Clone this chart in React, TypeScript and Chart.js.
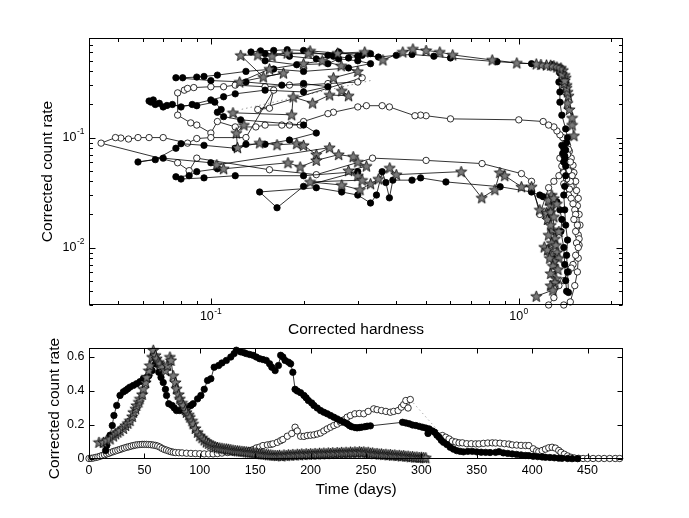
import React, { useEffect, useRef } from 'react';
import { Chart, registerables } from 'chart.js';

Chart.register(...registerables);

const FONT = '"Liberation Sans", Arial, Helvetica, sans-serif';

// ---------- Top panel: hardness-intensity diagram [hardness, rate] ----------
const hidStars: [number, number][] = [
  [1.51, 0.104], [1.49, 0.13], [1.49, 0.151], [1.46, 0.18], [1.44, 0.206], [1.45, 0.24], [1.44, 0.26],
  [1.43, 0.3], [1.43, 0.283], [1.4, 0.31], [1.42, 0.35], [1.41, 0.37], [1.39, 0.41], [1.37, 0.43],
  [1.41, 0.33], [1.38, 0.38], [1.36, 0.42], [1.33, 0.438], [1.30, 0.45], [1.27, 0.455], [1.23, 0.457],
  [1.18, 0.462], [1.14, 0.467], [0.985, 0.477], [0.82, 0.508], [0.61, 0.565], [0.554, 0.6], [0.5, 0.62],
  [0.453, 0.64], [0.42, 0.6], [0.362, 0.508], [0.316, 0.6], [0.258, 0.587], [0.21, 0.614], [0.207, 0.587],
  [0.177, 0.587], [0.158, 0.55], [0.142, 0.565], [0.125, 0.56], [0.148, 0.356], [0.172, 0.386],
  [0.124, 0.32], [0.155, 0.42], [0.2, 0.47], [0.23, 0.5], [0.265, 0.45], [0.3, 0.4], [0.25, 0.35],
  [0.266, 0.266], [0.28, 0.24], [0.243, 0.244], [0.214, 0.206], [0.185, 0.234], [0.183, 0.161],
  [0.118, 0.168], [0.128, 0.13], [0.121, 0.11], [0.122, 0.081], [0.144, 0.0895], [0.164, 0.086],
  [0.19, 0.088], [0.2, 0.085], [0.22, 0.07], [0.243, 0.081], [0.1045, 0.0565], [0.11, 0.052],
  [0.178, 0.059], [0.195, 0.054], [0.22, 0.062], [0.26, 0.07], [0.29, 0.067], [0.3, 0.06], [0.32, 0.055],
  [0.28, 0.05], [0.3, 0.045], [0.31, 0.041], [0.21, 0.0395], [0.266, 0.037], [0.305, 0.0335],
  [0.33, 0.038], [0.35, 0.042], [0.381, 0.053], [0.4, 0.046], [0.65, 0.049], [0.758, 0.0283],
  [0.836, 0.0335], [0.868, 0.048], [0.9, 0.045], [1.02, 0.0357], [1.1, 0.0357], [1.17, 0.022],
  [1.23, 0.0207], [1.27, 0.024], [1.28, 0.03], [1.25, 0.027], [1.3, 0.028], [1.33, 0.025], [1.27, 0.021],
  [1.24, 0.018], [1.3, 0.019], [1.29, 0.0145], [1.35, 0.014], [1.31, 0.012], [1.27, 0.016],
  [1.25, 0.013], [1.28, 0.011], [1.21, 0.0101], [1.24, 0.0095], [1.32, 0.0105], [1.33, 0.009],
  [1.27, 0.0085], [1.35, 0.008], [1.3, 0.0075], [1.26, 0.008], [1.29, 0.0068], [1.34, 0.0063],
  [1.27, 0.0058], [1.32, 0.0052], [1.31, 0.0048], [1.27, 0.0045], [1.29, 0.0041], [1.14, 0.0036],
];

const hidFilled: [number, number][] = [
  [1.45, 0.0039], [1.44, 0.006], [1.43, 0.0085], [1.44, 0.0117], [1.42, 0.016], [1.41, 0.022],
  [1.4, 0.03], [1.41, 0.036], [1.42, 0.045], [1.42, 0.055], [1.41, 0.065], [1.4, 0.06], [1.41, 0.068],
  [1.39, 0.072], [1.4, 0.08], [1.38, 0.085], [1.42, 0.077], [1.43, 0.09],
  [1.44, 0.1], [1.42, 0.12], [1.38, 0.16], [1.36, 0.21], [1.36, 0.26], [1.35, 0.32], [1.36, 0.387],
  [1.33, 0.43], [1.28, 0.46], [1.1, 0.47], [0.85, 0.49], [0.6, 0.53], [0.53, 0.55], [0.45, 0.57],
  [0.4, 0.56], [0.35, 0.54], [0.31, 0.56], [0.28, 0.53], [0.25, 0.55], [0.22, 0.52], [0.18, 0.55],
  [0.15, 0.58], [0.33, 0.58], [0.3, 0.55], [0.26, 0.6], [0.24, 0.56], [0.2, 0.62], [0.177, 0.63],
  [0.16, 0.62], [0.145, 0.615], [0.135, 0.6], [0.15, 0.5], [0.19, 0.46], [0.24, 0.47], [0.26, 0.52],
  [0.3, 0.5], [0.33, 0.47], [0.28, 0.43], [0.2, 0.4], [0.16, 0.42], [0.13, 0.4], [0.105, 0.37],
  [0.095, 0.36], [0.09, 0.355], [0.081, 0.35], [0.077, 0.35], [0.1, 0.33], [0.13, 0.32], [0.17, 0.3],
  [0.2, 0.31], [0.24, 0.29], [0.2, 0.26], [0.15, 0.27], [0.12, 0.25], [0.11, 0.235], [0.1, 0.22],
  [0.087, 0.2], [0.08, 0.19], [0.075, 0.2], [0.07, 0.19], [0.066, 0.2], [0.064, 0.21], [0.063, 0.215],
  [0.065, 0.22], [0.068, 0.205], [0.072, 0.196], [0.09, 0.195], [0.103, 0.21], [0.108, 0.18],
  [0.105, 0.17], [0.11, 0.155], [0.125, 0.145], [0.2, 0.13], [0.22, 0.11], [0.18, 0.095], [0.15, 0.087],
  [0.13, 0.087], [0.12, 0.08], [0.095, 0.085], [0.08, 0.088], [0.077, 0.08], [0.066, 0.063],
  [0.058, 0.06], [0.07, 0.065], [0.1, 0.059], [0.105, 0.052], [0.09, 0.049], [0.085, 0.045],
  [0.077, 0.044], [0.08, 0.042], [0.095, 0.043], [0.12, 0.045], [0.2, 0.045], [0.3, 0.049],
  [0.2, 0.036], [0.164, 0.023], [0.144, 0.032], [0.22, 0.035], [0.266, 0.032], [0.3, 0.03],
  [0.33, 0.0254], [0.345, 0.03], [0.36, 0.049], [0.37, 0.039], [0.38, 0.0283], [0.39, 0.041],
  [0.45, 0.041], [0.48, 0.043], [0.58, 0.0395], [0.87, 0.0357], [1.1, 0.032], [1.17, 0.03],
  [1.2, 0.029], [1.33, 0.026], [1.36, 0.022], [1.38, 0.018], [1.37, 0.014], [1.4, 0.01], [1.41, 0.007],
  [1.42, 0.005], [1.43, 0.004],
];

const hidOpen: [number, number][] = [
  [1.4, 0.003], [1.47, 0.0032], [1.52, 0.0045], [1.55, 0.006], [1.56, 0.008], [1.57, 0.0105],
  [1.56, 0.013], [1.58, 0.016], [1.57, 0.02], [1.55, 0.024], [1.56, 0.028], [1.54, 0.033], [1.53, 0.04],
  [1.51, 0.048], [1.5, 0.056], [1.48, 0.065], [1.46, 0.075], [1.44, 0.085], [1.45, 0.078],
  [1.47, 0.06], [1.49, 0.045], [1.48, 0.036], [1.46, 0.034], [1.47, 0.04], [1.45, 0.05], [1.44, 0.07],
  [1.42, 0.09], [1.39, 0.1], [1.36, 0.106], [1.33, 0.115], [1.3, 0.125], [1.25, 0.13], [1.2, 0.14],
  [1.0, 0.145], [0.6, 0.148], [0.5, 0.158], [0.48, 0.16], [0.46, 0.158], [0.38, 0.19], [0.36, 0.195],
  [0.32, 0.195], [0.3, 0.19], [0.25, 0.17], [0.24, 0.165], [0.2, 0.14], [0.195, 0.13], [0.18, 0.13],
  [0.17, 0.13], [0.15, 0.13], [0.14, 0.125], [0.12, 0.125], [0.105, 0.14], [0.1, 0.11], [0.09, 0.13],
  [0.086, 0.136], [0.078, 0.16], [0.078, 0.255], [0.082, 0.27], [0.084, 0.28], [0.088, 0.285],
  [0.1, 0.29], [0.11, 0.29], [0.12, 0.3], [0.15, 0.29], [0.18, 0.3], [0.2, 0.3], [0.24, 0.31],
  [0.3, 0.32], [0.31, 0.35], [0.142, 0.18], [0.155, 0.185], [0.16, 0.27], [0.13, 0.1],
  [0.1, 0.1], [0.09, 0.098], [0.084, 0.089], [0.07, 0.1], [0.063, 0.1], [0.058, 0.1], [0.054, 0.097],
  [0.051, 0.099], [0.049, 0.1], [0.044, 0.089], [0.078, 0.059], [0.085, 0.05], [0.09, 0.065],
  [0.155, 0.051], [0.22, 0.046], [0.335, 0.065], [0.5, 0.062], [0.76, 0.058], [1.02, 0.047],
  [1.1, 0.04], [1.17, 0.02], [1.25, 0.035], [1.3, 0.04], [1.35, 0.045], [1.38, 0.055], [1.36, 0.065],
  [1.39, 0.07], [1.41, 0.06], [1.4, 0.048], [1.43, 0.042], [1.4, 0.038], [1.45, 0.03], [1.48, 0.028],
  [1.5, 0.025], [1.52, 0.022], [1.53, 0.02], [1.51, 0.018], [1.55, 0.016], [1.53, 0.014], [1.57, 0.012],
  [1.54, 0.011], [1.56, 0.01], [1.53, 0.0085], [1.5, 0.007], [1.48, 0.0065], [1.45, 0.006], [1.4, 0.005],
  [1.35, 0.0045], [1.3, 0.0035], [1.25, 0.003],
];

const hidOpenGap: [number, number][] = [[0.33, 0.33], [0.125, 0.18]];

// ---------- Bottom panel: light curves [day, rate] ----------
const lcFilled: [number, number][] = [
  [15, 0.05], [16, 0.079], [19, 0.14], [21, 0.197], [22.5, 0.256], [25, 0.315], [28, 0.374], [31, 0.395],
  [33, 0.403], [35, 0.413], [37, 0.423], [40, 0.433], [43, 0.443], [46, 0.455], [49, 0.472], [52, 0.48],
  [54, 0.49], [57, 0.52], [60, 0.56], [63, 0.51], [65, 0.48], [67, 0.45], [69, 0.41], [70, 0.374],
  [72, 0.325], [75, 0.315], [77, 0.3], [79, 0.285], [82, 0.285], [85, 0.295], [89, 0.305], [92, 0.315],
  [94, 0.325], [98, 0.354], [101, 0.374], [104, 0.41], [107, 0.462], [110, 0.472], [113, 0.54],
  [117, 0.55], [120, 0.565], [124, 0.58], [128, 0.6], [131, 0.62], [133, 0.64], [137, 0.63],
  [140, 0.625], [142, 0.62], [145, 0.615], [148, 0.61], [151, 0.6], [154, 0.59], [157, 0.585],
  [160, 0.58], [163, 0.56], [165, 0.54], [168, 0.52], [171, 0.55], [173, 0.61], [175, 0.6], [177, 0.58],
  [180, 0.57], [182, 0.56], [184, 0.51], [186, 0.41], [188, 0.4], [191, 0.39], [194, 0.374],
  [196, 0.36], [198, 0.344], [201, 0.33], [203, 0.315], [206, 0.3], [209, 0.285], [212, 0.275],
  [215, 0.266], [218, 0.256], [221, 0.246], [224, 0.236], [227, 0.226], [230, 0.216], [233, 0.207],
  [235, 0.197], [237, 0.19], [240, 0.185], [242, 0.183], [244, 0.185], [246, 0.187], [249, 0.19],
  [251, 0.193], [254, 0.195], [283, 0.216], [286, 0.212], [289, 0.207], [292, 0.2], [295, 0.197],
  [298, 0.192], [301, 0.187], [304, 0.182], [306, 0.15], [307, 0.177], [310, 0.165], [312, 0.157],
  [314, 0.14], [316, 0.128], [318, 0.11], [320, 0.098], [323, 0.085], [326, 0.069], [329, 0.058],
  [332, 0.049], [335, 0.045], [338, 0.042], [342, 0.045], [346, 0.045], [350, 0.042], [354, 0.04],
  [358, 0.039], [362, 0.038], [367, 0.039], [370, 0.043], [374, 0.036], [378, 0.033], [382, 0.03],
  [386, 0.027], [390, 0.024], [394, 0.021], [397, 0.02], [401, 0.016], [405, 0.014], [409, 0.012],
  [412, 0.01], [416, 0.009], [420, 0.007], [424, 0.005], [427, 0.004], [432, 0.003], [436, 0.002],
  [441, 0.002],
];

const lcOpen: [number, number][] = [
  [0, 0.003], [2, 0.004], [4, 0.006], [6, 0.009], [8, 0.012], [10, 0.016], [12, 0.021], [14, 0.025],
  [16, 0.03], [18, 0.034], [20, 0.039], [22, 0.044], [24, 0.048], [26, 0.052], [28, 0.056], [30, 0.061],
  [32, 0.065], [34, 0.069], [36, 0.072], [38, 0.076], [40, 0.079], [42, 0.082], [44, 0.084], [46, 0.085],
  [48, 0.086], [50, 0.086], [52, 0.086], [54, 0.085], [56, 0.084], [58, 0.082], [60, 0.08], [62, 0.076],
  [64, 0.07], [66, 0.062], [68, 0.056], [70, 0.052], [72, 0.047], [74, 0.043], [76, 0.04], [78, 0.038],
  [81, 0.037], [84, 0.036], [88, 0.034], [92, 0.033], [96, 0.032], [100, 0.031], [104, 0.03],
  [108, 0.03], [112, 0.03], [116, 0.032], [120, 0.035], [125, 0.038], [130, 0.041], [135, 0.044],
  [140, 0.046], [145, 0.049], [148, 0.055], [151, 0.065], [154, 0.07], [157, 0.079], [161, 0.083],
  [164, 0.086], [166, 0.089], [170, 0.098], [173, 0.108], [175, 0.115], [179, 0.134], [183, 0.15],
  [186, 0.187], [188, 0.165], [191, 0.134], [194, 0.133], [197, 0.138], [200, 0.14], [203, 0.142],
  [206, 0.147], [209, 0.153], [212, 0.165], [215, 0.177], [218, 0.187], [221, 0.197], [224, 0.205],
  [227, 0.216], [230, 0.23], [233, 0.246], [236, 0.256], [240, 0.266], [244, 0.268], [248, 0.266],
  [252, 0.28], [257, 0.295], [260, 0.29], [264, 0.285], [268, 0.28], [272, 0.275], [275, 0.28],
  [279, 0.285], [282, 0.305], [284, 0.32], [286, 0.344], [288, 0.3], [290, 0.35], [319, 0.138],
  [322, 0.128], [325, 0.118], [328, 0.105], [331, 0.1], [334, 0.095], [337, 0.095], [341, 0.09],
  [345, 0.09], [349, 0.089], [352, 0.089], [356, 0.092], [360, 0.094], [364, 0.095], [367, 0.094],
  [371, 0.093], [375, 0.09], [379, 0.088], [382, 0.083], [386, 0.082], [390, 0.08], [394, 0.079],
  [397, 0.079], [401, 0.06], [404, 0.048], [406, 0.043], [409, 0.05], [412, 0.058], [415, 0.066],
  [418, 0.069], [421, 0.064], [424, 0.05], [426, 0.039], [429, 0.028], [432, 0.018], [435, 0.01],
  [438, 0.006], [442, 0.004], [446, 0.003], [450, 0.003], [455, 0.003], [460, 0.003], [465, 0.003],
  [470, 0.003], [475, 0.003], [479, 0.003],
];

const lcStars: [number, number][] = [
  [9, 0.098], [13, 0.098], [16, 0.11], [19, 0.118], [22, 0.135], [24, 0.148], [26, 0.158], [28, 0.167],
  [31, 0.18], [33, 0.197], [35, 0.21], [37, 0.226], [39, 0.25], [40, 0.275], [42, 0.295], [43, 0.315],
  [45, 0.335], [46, 0.354], [48, 0.38], [49, 0.413], [51, 0.45], [52, 0.482], [54, 0.52], [55, 0.55],
  [57, 0.6], [58, 0.64], [60, 0.61], [61, 0.59], [63, 0.57], [64, 0.56], [66, 0.54], [69, 0.52],
  [71, 0.55], [73, 0.6], [74, 0.58], [76, 0.49], [78, 0.45], [79, 0.413], [81, 0.38], [82, 0.354],
  [84, 0.33], [85, 0.315], [87, 0.29], [88, 0.275], [90, 0.26], [91, 0.246], [93, 0.225], [94, 0.207],
  [96, 0.18], [98, 0.157], [100, 0.137], [102, 0.125], [104, 0.112], [106, 0.1], [108, 0.092],
  [110, 0.085], [112, 0.078], [114, 0.072], [116, 0.068], [118, 0.065], [120, 0.063], [122, 0.06],
  [124, 0.059], [126, 0.057], [128, 0.055], [130, 0.052], [132, 0.05], [134, 0.048], [136, 0.047],
  [138, 0.045], [140, 0.044], [142, 0.042], [144, 0.04], [146, 0.039], [148, 0.037], [150, 0.035],
  [152, 0.034], [154, 0.032], [156, 0.03], [158, 0.028], [160, 0.027], [162, 0.025], [164, 0.024],
  [166, 0.022], [168, 0.021], [170, 0.02], [172, 0.022], [174, 0.018], [176, 0.024], [178, 0.02],
  [180, 0.025], [182, 0.022], [184, 0.027], [186, 0.023], [188, 0.028], [190, 0.025], [192, 0.03],
  [194, 0.026], [196, 0.031], [198, 0.027], [200, 0.031], [202, 0.028], [204, 0.033], [206, 0.029],
  [208, 0.034], [210, 0.03], [212, 0.035], [214, 0.031], [216, 0.036], [218, 0.032], [220, 0.037],
  [222, 0.033], [224, 0.038], [226, 0.034], [228, 0.039], [230, 0.035], [232, 0.04], [234, 0.036],
  [236, 0.041], [238, 0.037], [240, 0.042], [242, 0.038], [244, 0.043], [246, 0.039], [248, 0.042],
  [250, 0.037], [252, 0.04], [254, 0.034], [256, 0.036], [258, 0.031], [260, 0.033], [262, 0.029],
  [264, 0.03], [266, 0.026], [268, 0.028], [270, 0.024], [272, 0.026], [274, 0.022], [276, 0.024],
  [278, 0.02], [280, 0.022], [282, 0.018], [284, 0.02], [286, 0.016], [288, 0.017], [290, 0.013],
  [292, 0.014], [294, 0.011], [296, 0.012], [298, 0.009], [300, 0.01], [302, 0.008], [304, 0.007],
];

// ---------- Axes ----------
const hidXRange = [0.0402, 2.18];
const hidYRange = [0.003, 0.805];
const hidXMajor = [0.1, 1];
const hidXMinor = [0.05, 0.06, 0.07, 0.08, 0.09, 0.2, 0.3, 0.4, 0.5, 0.6, 0.7, 0.8, 0.9, 2];
const hidYMajor = [0.01, 0.1];
const hidYMinor = [0.003, 0.004, 0.005, 0.006, 0.007, 0.008, 0.009, 0.02, 0.03, 0.04, 0.05, 0.06, 0.07,
  0.08, 0.09, 0.2, 0.3, 0.4, 0.5, 0.6, 0.7, 0.8];
const hidXLabels = [{ v: 0.1, t: '10', e: '-1' }, { v: 1, t: '10', e: '0' }];
const hidYLabels = [{ v: 0.01, t: '10', e: '-2' }, { v: 0.1, t: '10', e: '-1' }];

const lcXRange = [0, 482];
const lcYRange = [0, 0.653];
const lcXTicks = [0, 50, 100, 150, 200, 250, 300, 350, 400, 450];
const lcYTicks = [0, 0.2, 0.4, 0.6];
const lcYTickText = ['0', '0.2', '0.4', '0.6'];

type Lbl = { v: number; t: string; e?: string };
type Decor = {
  xMajor: number[]; xMinor: number[]; yMajor: number[]; yMinor: number[];
  majorLen: number; minorLen: number;
  xLabels: Lbl[]; yLabels: Lbl[];
  xLabelDy: number; xTitle: string; xTitleDy: number; yTitle: string; yTitleX: number; yTitleDy: number;
};

function drawLabel(ctx: CanvasRenderingContext2D, l: Lbl, x: number, y: number, align: 'center' | 'right') {
  ctx.font = `12.5px ${FONT}`;
  const w1 = ctx.measureText(l.t).width;
  let w2 = 0;
  if (l.e) { ctx.font = `8.5px ${FONT}`; w2 = ctx.measureText(l.e).width + 0.5; }
  const total = w1 + w2;
  const x0 = align === 'center' ? x - total / 2 : x - total;
  ctx.textAlign = 'left';
  ctx.textBaseline = 'middle';
  ctx.font = `12.5px ${FONT}`;
  ctx.fillText(l.t, x0, y);
  if (l.e) { ctx.font = `8.5px ${FONT}`; ctx.fillText(l.e, x0 + w1 + 0.5, y - 5.5); }
}

function makeDecor(d: Decor) {
  return {
    id: 'decor',
    afterDraw(chart: any) {
      const { ctx, chartArea: a, scales } = chart;
      const xs = scales.x, ys = scales.y;
      const L = Math.round(a.left) + 0.5, R = Math.round(a.right) - 0.5;
      const T = Math.round(a.top) + 0.5, B = Math.round(a.bottom) - 0.5;
      ctx.save();
      ctx.strokeStyle = '#000';
      ctx.lineWidth = 1;
      const seg = (x1: number, y1: number, x2: number, y2: number) => {
        ctx.beginPath(); ctx.moveTo(x1, y1); ctx.lineTo(x2, y2); ctx.stroke();
      };
      const xt = (v: number, len: number) => {
        const p = Math.round(xs.getPixelForValue(v)) + 0.5;
        seg(p, B, p, B - len); seg(p, T, p, T + len);
      };
      const yt = (v: number, len: number) => {
        const p = Math.round(ys.getPixelForValue(v)) + 0.5;
        seg(L, p, L + len, p); seg(R, p, R - len, p);
      };
      d.xMinor.forEach((v) => xt(v, d.minorLen));
      d.xMajor.forEach((v) => xt(v, d.majorLen));
      d.yMinor.forEach((v) => yt(v, d.minorLen));
      d.yMajor.forEach((v) => yt(v, d.majorLen));
      ctx.strokeRect(L, T, R - L, B - T);
      ctx.fillStyle = '#000';
      d.xLabels.forEach((l) => drawLabel(ctx, l, xs.getPixelForValue(l.v), a.bottom + d.xLabelDy, 'center'));
      d.yLabels.forEach((l) => drawLabel(ctx, l, a.left - 4.5, ys.getPixelForValue(l.v), 'right'));
      ctx.font = `15.5px ${FONT}`;
      ctx.textAlign = 'center';
      ctx.textBaseline = 'middle';
      ctx.fillText(d.xTitle, (a.left + a.right) / 2, a.bottom + d.xTitleDy);
      ctx.translate(d.yTitleX, (a.top + a.bottom) / 2 + d.yTitleDy);
      ctx.rotate(-Math.PI / 2);
      ctx.fillText(d.yTitle, 0, 0);
      ctx.restore();
    },
  };
}

function makeStar(size: number) {
  const c = document.createElement('canvas');
  c.width = size; c.height = size;
  const g = c.getContext('2d')!;
  const cx = size / 2, cy = size / 2 + 0.4, R = size / 2 - 0.6, r = R * 0.42;
  g.beginPath();
  for (let i = 0; i < 10; i++) {
    const ang = -Math.PI / 2 + (i * Math.PI) / 5;
    const rad = i % 2 === 0 ? R : r;
    g.lineTo(cx + rad * Math.cos(ang), cy + rad * Math.sin(ang));
  }
  g.closePath();
  g.fillStyle = '#7a7a7a';
  g.fill();
  g.strokeStyle = '#000';
  g.lineWidth = 0.8;
  g.stroke();
  return c;
}

const toXY = (arr: [number, number][]) => arr.map(([x, y]) => ({ x, y }));

function series(data: [number, number][], kind: 'star' | 'filled' | 'open', star: HTMLCanvasElement, extra: any = {}) {
  const base: any = {
    data: toXY(data),
    showLine: true,
    borderColor: '#000',
    borderWidth: 0.8,
    clip: 6,
    pointBorderWidth: 0.8,
    pointBorderColor: '#000',
  };
  if (kind === 'star') {
    base.pointStyle = star;
    base.pointRadius = 6;
    base.pointBackgroundColor = '#7a7a7a';
  } else {
    base.pointStyle = 'circle';
    base.pointRadius = 3.2;
    base.pointBackgroundColor = kind === 'filled' ? '#000' : '#fff';
  }
  return { ...base, ...extra };
}

export default function App() {
  const topRef = useRef<HTMLCanvasElement>(null);
  const botRef = useRef<HTMLCanvasElement>(null);

  useEffect(() => {
    const star = makeStar(13);
    const common = {
      responsive: false,
      animation: false as const,
      events: [] as any[],
      plugins: { legend: { display: false }, tooltip: { enabled: false } },
    };

    const top = new Chart(topRef.current!, {
      type: 'scatter',
      data: {
        datasets: [
          series(hidStars, 'star', star),
          series(hidFilled, 'filled', star),
          series(hidOpen, 'open', star),
          { data: toXY(hidOpenGap), showLine: true, pointRadius: 0, borderColor: '#999', borderWidth: 1, borderDash: [1.5, 3] } as any,
        ],
      },
      options: {
        ...common,
        layout: { padding: { left: 0, right: 66, top: 38, bottom: 0 } },
        scales: {
          x: {
            type: 'logarithmic', min: hidXRange[0], max: hidXRange[1],
            ticks: { display: false }, grid: { display: false }, border: { display: false },
            afterFit: (s: any) => { s.height = 35; },
          },
          y: {
            type: 'logarithmic', min: hidYRange[0], max: hidYRange[1],
            ticks: { display: false }, grid: { display: false }, border: { display: false },
            afterFit: (s: any) => { s.width = 89; },
          },
        },
      } as any,
      plugins: [makeDecor({
        xMajor: hidXMajor, xMinor: hidXMinor, yMajor: hidYMajor, yMinor: hidYMinor,
        majorLen: 6, minorLen: 3.5, xLabels: hidXLabels, yLabels: hidYLabels,
        xLabelDy: 12, xTitle: 'Corrected hardness', xTitleDy: 25,
        yTitle: 'Corrected count rate', yTitleX: 48, yTitleDy: 0,
      })],
    });

    const bot = new Chart(botRef.current!, {
      type: 'scatter',
      data: {
        datasets: [
          series(lcStars, 'star', star),
          series(lcFilled, 'filled', star),
          series(lcOpen, 'open', star, {
            segment: {
              borderDash: (c: any) => (c.p1.parsed.x - c.p0.parsed.x > 15 ? [1.5, 3] : undefined),
              borderColor: (c: any) => (c.p1.parsed.x - c.p0.parsed.x > 15 ? '#999' : undefined),
            },
          }),
        ],
      },
      options: {
        ...common,
        layout: { padding: { left: 0, right: 66, top: 26, bottom: 0 } },
        scales: {
          x: {
            type: 'linear', min: lcXRange[0], max: lcXRange[1],
            ticks: { display: false }, grid: { display: false }, border: { display: false },
            afterFit: (s: any) => { s.height = 59; },
          },
          y: {
            type: 'linear', min: lcYRange[0], max: lcYRange[1],
            ticks: { display: false }, grid: { display: false }, border: { display: false },
            afterFit: (s: any) => { s.width = 89; },
          },
        },
      } as any,
      plugins: [makeDecor({
        xMajor: lcXTicks, xMinor: [], yMajor: lcYTicks, yMinor: [],
        majorLen: 5, minorLen: 3,
        xLabels: lcXTicks.map((v) => ({ v, t: String(v) })),
        yLabels: lcYTicks.map((v, i) => ({ v, t: lcYTickText[i] })),
        xLabelDy: 12, xTitle: 'Time (days)', xTitleDy: 31,
        yTitle: 'Corrected count rate', yTitleX: 55, yTitleDy: 5,
      })],
    });

    return () => { top.destroy(); bot.destroy(); };
  }, []);

  return (
    <div style={{ position: 'absolute', left: 0, top: 0, width: 689, height: 518, background: '#fff' }}>
      <canvas ref={topRef} width={689} height={340} style={{ position: 'absolute', left: 0, top: 0, width: 689, height: 340 }} />
      <canvas ref={botRef} width={689} height={196} style={{ position: 'absolute', left: 0, top: 322, width: 689, height: 196 }} />
    </div>
  );
}
